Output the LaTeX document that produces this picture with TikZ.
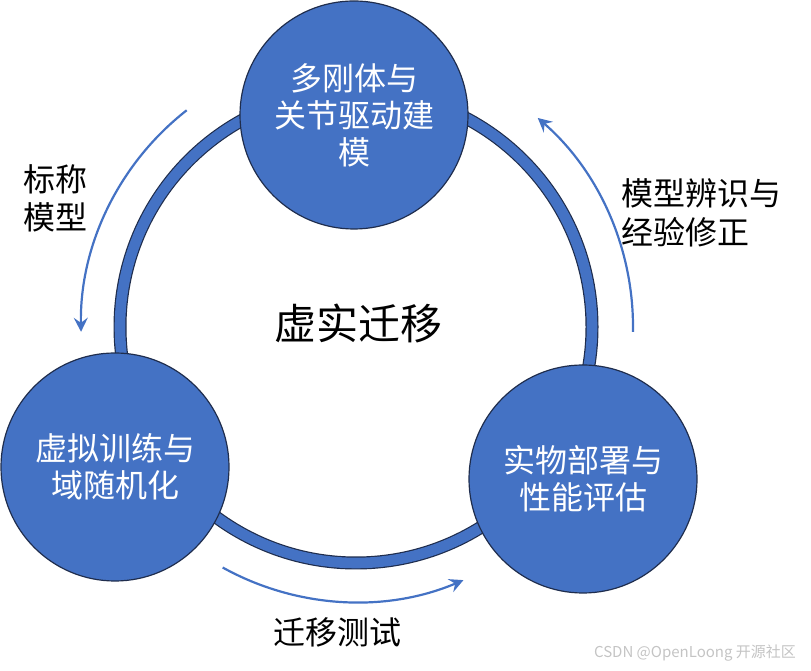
\documentclass[tikz,border=0pt]{standalone}
\usepackage{fontspec}
\newfontfamily\cjk{Noto Sans CJK SC}
\usetikzlibrary{arrows.meta,calc}
\definecolor{cblue}{HTML}{4472C4}
\definecolor{cdark}{HTML}{1F2D4D}
\definecolor{cmark}{HTML}{C4C4C4}
\begin{document}
\begin{tikzpicture}[x=1pt,y=1pt,
  bubble/.style={circle, fill=cblue, draw=cdark, line width=1.2pt, minimum size=228pt, inner sep=0pt, text=white, align=center, font=\cjk\fontsize{32}{37}\selectfont},
  lbl/.style={text=black, inner sep=0pt, font=\cjk\fontsize{32}{38}\selectfont},
  flow/.style={draw=cblue, line width=2.2pt, -{Stealth[length=14pt,width=14pt,inset=5pt]}}]
\useasboundingbox (0,0) rectangle (811,671);
\coordinate (ctr) at (356,344);
% ring
\draw[cdark, line width=13pt] (ctr) circle[radius=236];
\draw[cblue, line width=10.6pt] (ctr) circle[radius=236];
% circles
\node[bubble] (model) at (354,556) {多刚体与\\关节驱动建\\模};
\node[bubble] (train) at (115,204) {虚拟训练与\\域随机化};
\node[bubble] (deploy) at (583,192) {实物部署与\\性能评估};
% centre text
\node[lbl, font=\cjk\fontsize{42}{48}\selectfont] (title) at (358,348) {虚实迁移};
% arrows
\coordinate (a1s) at ($(ctr)+(128:275)$);
\coordinate (a2s) at ($(ctr)+(241:275)$);
\coordinate (a3s) at ($(ctr)+(-1:277)$);
\draw[flow] (a1s) arc[start angle=128, end angle=181, radius=275];
\draw[flow] (a2s) arc[start angle=241, end angle=293, radius=275];
\draw[flow] (a3s) arc[start angle=-1, end angle=49, radius=277];
% labels
\node[lbl, anchor=west, align=left] (l1) at (23,472.5) {标称\\模型};
\node[lbl, anchor=west, align=left, font=\cjk\fontsize{32}{39}\selectfont] (l2) at (621,458.5) {模型辨识与\\经验修正};
\node[lbl] (l3) at (337,39) {迁移测试};
% watermark
\node[inner sep=0pt, text=cmark, font=\cjk\fontsize{15}{18}\selectfont] (wm) at (695,18) {CSDN @OpenLoong 开源社区};
\end{tikzpicture}
\end{document}
